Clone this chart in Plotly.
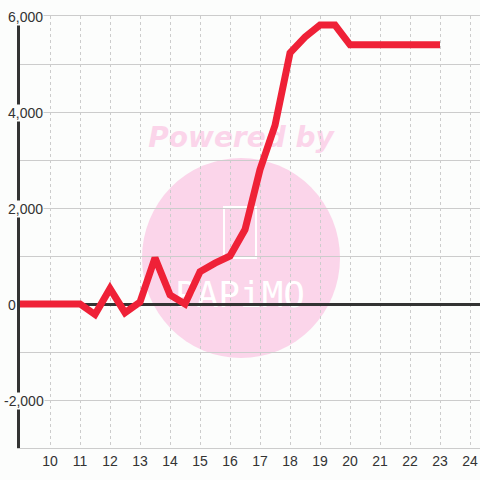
import plotly.graph_objects as go

# ---- data ----
x_vals = [9, 10, 11, 11.5, 12, 12.5, 13, 13.5, 14, 14.5, 15, 15.5, 16, 16.5,
          17, 17.5, 18, 18.5, 19, 19.5, 20, 21, 22, 23]
y_vals = [0, 0, 0, -220, 320, -180, 40, 960, 190, 0, 670, 850, 1000, 1550,
          2800, 3720, 5230, 5560, 5810, 5810, 5400, 5400, 5400, 5400]
x_ticks = list(range(10, 25))
y_label_vals = [6000, 4000, 2000, 0, -2000]
y_label_text = ["6,000", "4,000", "2,000", "0", "-2,000"]

BG = "#fcfdfc"
RED = "#ef2137"
PINK = "#fbd5ea"
TXT = "#333333"

W, H = 480, 480
L, R, T, B = 20, 0, 16, 32
pw, ph = W - L - R, H - T - B


def px(xp):
    return (xp - L) / pw


def py(yp):
    return (H - B - yp) / ph


def box(x0, y0, x1, y1):
    return dict(xref="paper", yref="paper", x0=px(x0), x1=px(x1), y0=py(y1), y1=py(y0))


fig = go.Figure()
fig.add_trace(go.Scatter(
    x=x_vals, y=y_vals, mode="lines",
    line=dict(color=RED, width=7),
    hoverinfo="skip", showlegend=False,
))

shapes = [
    dict(type="circle", fillcolor=PINK, line=dict(width=0), layer="below",
         **box(142, 158, 340, 358)),
    dict(type="rect", line=dict(color="white", width=2), fillcolor="rgba(0,0,0,0)",
         layer="below", **box(224, 207, 256, 258)),
    dict(type="rect", line=dict(width=0), fillcolor="rgba(0,0,0,0)", layer="below",
         label=dict(text="PAPiMO",
                    font=dict(family="DejaVu Sans ExtraLight, DejaVu Sans Mono", size=36,
                              color="white"),
                    textposition="middle center"),
         **box(160, 272, 320, 310)),
    dict(type="rect", line=dict(width=0), fillcolor="rgba(0,0,0,0)", layer="below",
         label=dict(text="<b><i>Powered by</i></b>",
                    font=dict(family="DejaVu Sans", size=28, color=PINK),
                    textposition="middle center"),
         **box(130, 115, 352, 155)),
]

annotations = []
for v, t in zip(y_label_vals, y_label_text):
    annotations.append(dict(
        x=0, xref="paper", y=v, yref="y", text=t, showarrow=False,
        xanchor="left", yanchor="middle", xshift=(-17 if v < 0 else -13), yshift=-1,
        font=dict(family="Liberation Sans, Arial", size=14, color=TXT),
        bgcolor=BG, borderpad=0,
    ))

fig.update_layout(
    width=W, height=H,
    margin=dict(l=L, r=R, t=T, b=B, autoexpand=False),
    paper_bgcolor=BG, plot_bgcolor=BG,
    shapes=shapes, annotations=annotations,
    showlegend=False,
    xaxis=dict(range=[9, 24.333], tickvals=x_ticks, ticktext=[str(v) for v in x_ticks],
               showgrid=True, gridcolor="#cccccc", gridwidth=1, griddash="3px,3px",
               zeroline=False, showline=True, mirror=True, linecolor="#cccccc", linewidth=1,
               ticks="", tickfont=dict(family="Liberation Sans, Arial", size=14, color=TXT),
               fixedrange=True, automargin=False),
    yaxis=dict(range=[-3000, 6000], dtick=1000, showticklabels=False,
               showgrid=True, gridcolor="#cccccc", gridwidth=1,
               zeroline=True, zerolinecolor="#333333", zerolinewidth=3,
               showline=True, linecolor="#333333", linewidth=3, ticks="",
               fixedrange=True, automargin=False),
)

fig.write_html(
    "out.html",
    post_script="document.body.style.margin='0';document.body.style.background='%s';" % BG,
    config={"displayModeBar": False},
)
